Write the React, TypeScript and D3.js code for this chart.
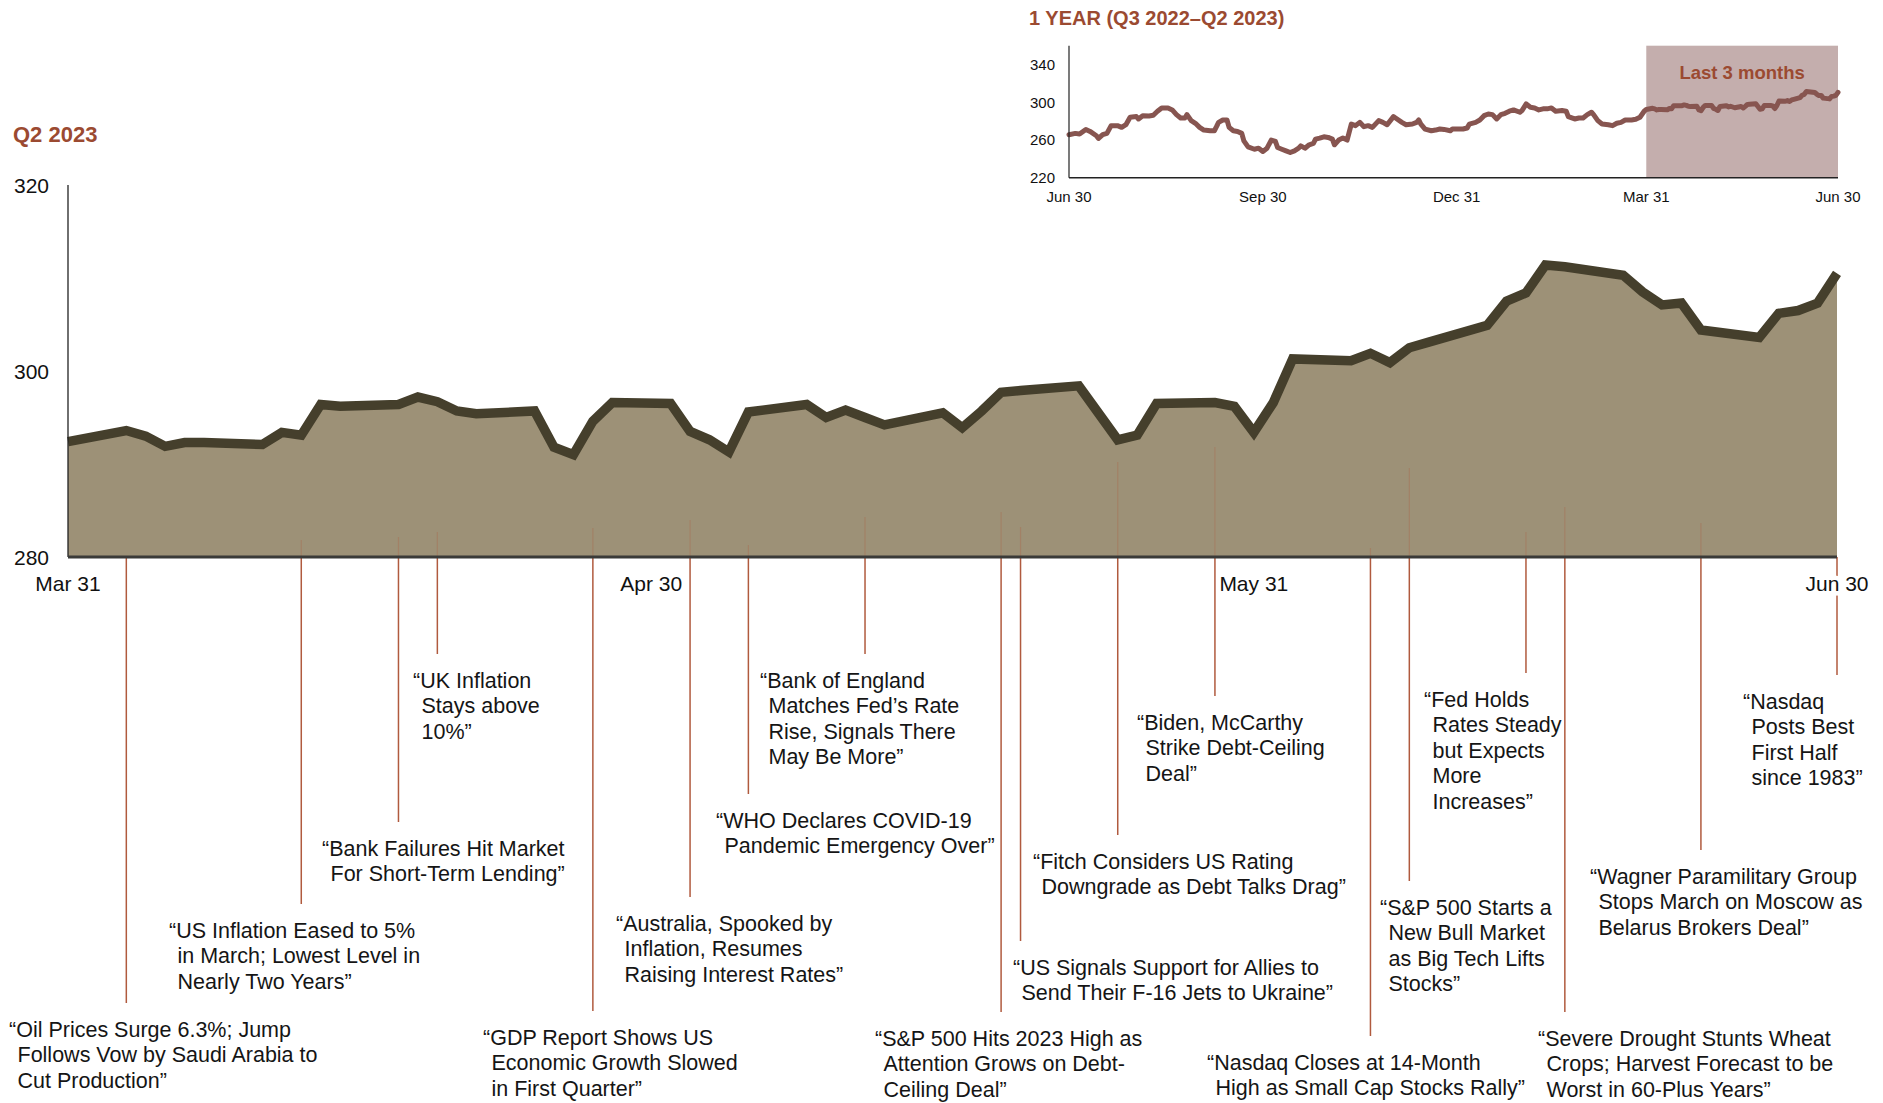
import React from "react";
import * as d3 from "d3";

// Q2 2023 closes (main chart)
const q2Dates = [
  "2023-03-31",
  "2023-04-03", "2023-04-04", "2023-04-05", "2023-04-06", "2023-04-07",
  "2023-04-10", "2023-04-11", "2023-04-12", "2023-04-13", "2023-04-14",
  "2023-04-17", "2023-04-18", "2023-04-19", "2023-04-20", "2023-04-21",
  "2023-04-24", "2023-04-25", "2023-04-26", "2023-04-27", "2023-04-28",
  "2023-05-01", "2023-05-02", "2023-05-03", "2023-05-04", "2023-05-05",
  "2023-05-08", "2023-05-09", "2023-05-10", "2023-05-11", "2023-05-12",
  "2023-05-15", "2023-05-16", "2023-05-17", "2023-05-18", "2023-05-19",
  "2023-05-22", "2023-05-23", "2023-05-24", "2023-05-25", "2023-05-26",
  "2023-05-29", "2023-05-30", "2023-05-31", "2023-06-01", "2023-06-02",
  "2023-06-05", "2023-06-06", "2023-06-07", "2023-06-08", "2023-06-09",
  "2023-06-12", "2023-06-13", "2023-06-14", "2023-06-15", "2023-06-16",
  "2023-06-19", "2023-06-20", "2023-06-21", "2023-06-22", "2023-06-23",
  "2023-06-26", "2023-06-27", "2023-06-28", "2023-06-29", "2023-06-30",
];
const q2Values = [
  292.4,
  293.6, 293.0, 291.9, 292.3, 292.3,
  292.1, 293.4, 293.1, 296.4, 296.2,
  296.4, 297.2, 296.7, 295.7, 295.4,
  295.7, 291.8, 291.0, 294.6, 296.6,
  296.5, 293.5, 292.6, 291.3, 295.6,
  296.4, 295.0, 295.8, 295.0, 294.2,
  295.5, 293.9, 295.7, 297.7, 297.9,
  298.4, 295.5, 292.6, 293.1, 296.5,
  296.6, 296.2, 293.4, 296.6, 301.3,
  301.1, 301.9, 300.9, 302.5, 303.1,
  304.9, 307.5, 308.4, 311.4, 311.2,
  310.3, 308.5, 307.1, 307.3, 304.4,
  303.6, 306.2, 306.5, 307.3, 310.5,
];

// Q3 2022 - Q1 2023
const priorDates = [
  "2022-06-30", "2022-07-03", "2022-07-05", "2022-07-08", "2022-07-10", "2022-07-13",
  "2022-07-14", "2022-07-16", "2022-07-18", "2022-07-20", "2022-07-23", "2022-07-25",
  "2022-07-27", "2022-07-29", "2022-08-01", "2022-08-02", "2022-08-04", "2022-08-07",
  "2022-08-09", "2022-08-11", "2022-08-13", "2022-08-16", "2022-08-18", "2022-08-20",
  "2022-08-22", "2022-08-24", "2022-08-25", "2022-08-27", "2022-08-29", "2022-08-31",
  "2022-09-02", "2022-09-05", "2022-09-07", "2022-09-08", "2022-09-09", "2022-09-11",
  "2022-09-13", "2022-09-14", "2022-09-16", "2022-09-18", "2022-09-20", "2022-09-21",
  "2022-09-23", "2022-09-26", "2022-09-28", "2022-09-30", "2022-10-02", "2022-10-04",
  "2022-10-06", "2022-10-07", "2022-10-09", "2022-10-11", "2022-10-13", "2022-10-15",
  "2022-10-17", "2022-10-18", "2022-10-20", "2022-10-22", "2022-10-24", "2022-10-25",
  "2022-10-27", "2022-10-29", "2022-10-31", "2022-11-02", "2022-11-03", "2022-11-05",
  "2022-11-07", "2022-11-09", "2022-11-11", "2022-11-13", "2022-11-15", "2022-11-17",
  "2022-11-19", "2022-11-21", "2022-11-24", "2022-11-26", "2022-11-28", "2022-12-01",
  "2022-12-02", "2022-12-05", "2022-12-07", "2022-12-10", "2022-12-12", "2022-12-13",
  "2022-12-14", "2022-12-16", "2022-12-19", "2022-12-21", "2022-12-23", "2022-12-25",
  "2022-12-28", "2022-12-29", "2023-01-01", "2023-01-03", "2023-01-05", "2023-01-06",
  "2023-01-09", "2023-01-11", "2023-01-13", "2023-01-15", "2023-01-17", "2023-01-19",
  "2023-01-21", "2023-01-23", "2023-01-25", "2023-01-27", "2023-01-30", "2023-01-31",
  "2023-02-02", "2023-02-04", "2023-02-06", "2023-02-08", "2023-02-10", "2023-02-12",
  "2023-02-14", "2023-02-16", "2023-02-19", "2023-02-21", "2023-02-22", "2023-02-25",
  "2023-02-27", "2023-03-01", "2023-03-03", "2023-03-05", "2023-03-06", "2023-03-08",
  "2023-03-10", "2023-03-13", "2023-03-15", "2023-03-17", "2023-03-19", "2023-03-21",
  "2023-03-24", "2023-03-26", "2023-03-28", "2023-03-30",
];
const priorValues = [
  265.6, 267.0, 266.3, 271.2, 269.1, 264.5,
  261.6, 265.6, 267.0, 275.2, 275.2, 273.4,
  276.2, 284.1, 284.8, 282.3, 285.8, 285.5,
  286.2, 290.5, 294.0, 294.0, 291.9, 286.9,
  283.3, 283.3, 286.9, 280.5, 277.7, 273.4,
  270.5, 269.8, 269.8, 274.1, 278.7, 281.2,
  281.2, 273.4, 269.8, 269.1, 267.0, 259.1,
  252.7, 250.2, 251.3, 247.8, 251.3, 259.9,
  258.4, 252.0, 250.2, 248.5, 246.7, 248.5,
  251.3, 253.8, 251.3, 254.9, 256.3, 260.9,
  262.0, 263.4, 262.7, 260.9, 254.9, 259.9,
  262.0, 259.9, 276.9, 275.2, 278.7, 274.1,
  275.2, 273.4, 280.5, 278.7, 276.2, 284.8,
  283.3, 278.7, 276.2, 276.9, 278.7, 281.2,
  276.9, 271.6, 269.8, 270.5, 271.6, 271.2,
  269.8, 271.6, 271.6, 271.6, 272.7, 276.9,
  278.7, 281.2, 285.8, 287.6, 286.9, 282.3,
  286.9, 288.3, 290.5, 291.9, 289.4, 291.2,
  298.3, 294.7, 294.0, 291.9, 293.0, 293.0,
  294.0, 290.5, 291.2, 290.5, 284.8, 282.3,
  283.3, 283.3, 286.9, 289.4, 286.9, 280.5,
  276.9, 276.2, 275.2, 277.7, 278.7, 281.2,
  281.2, 281.9, 284.1, 290.5,
];

const yTicks = [280, 300, 320];
const xTickDates = ["2023-03-31", "2023-04-30", "2023-05-31", "2023-06-30"];
const xTickLabels = ["Mar 31", "Apr 30", "May 31", "Jun 30"];

const insetYTicks = [220, 260, 300, 340];
const insetTickDates = ["2022-06-30", "2022-09-30", "2022-12-31", "2023-03-31", "2023-06-30"];
const insetTickLabels = ["Jun 30", "Sep 30", "Dec 31", "Mar 31", "Jun 30"];

const headlineDates = [
  "2023-04-03", "2023-04-12", "2023-04-17", "2023-04-19", "2023-04-27", "2023-05-02",
  "2023-05-05", "2023-05-11", "2023-05-18", "2023-05-19", "2023-05-24", "2023-05-29",
  "2023-06-06", "2023-06-08", "2023-06-14", "2023-06-16", "2023-06-23", "2023-06-30",
];
const headlines = [
  ["“Oil Prices Surge 6.3%; Jump", "Follows Vow by Saudi Arabia to", "Cut Production”"],
  ["“US Inflation Eased to 5%", "in March; Lowest Level in", "Nearly Two Years”"],
  ["“Bank Failures Hit Market", "For Short-Term Lending”"],
  ["“UK Inflation", "Stays above", "10%”"],
  ["“GDP Report Shows US", "Economic Growth Slowed", "in First Quarter”"],
  ["“Australia, Spooked by", "Inflation, Resumes", "Raising Interest Rates”"],
  ["“WHO Declares COVID-19", "Pandemic Emergency Over”"],
  ["“Bank of England", "Matches Fed’s Rate", "Rise, Signals There", "May Be More”"],
  ["“S&P 500 Hits 2023 High as", "Attention Grows on Debt-", "Ceiling Deal”"],
  ["“US Signals Support for Allies to", "Send Their F-16 Jets to Ukraine”"],
  ["“Fitch Considers US Rating", "Downgrade as Debt Talks Drag”"],
  ["“Biden, McCarthy", "Strike Debt-Ceiling", "Deal”"],
  ["“Nasdaq Closes at 14-Month", "High as Small Cap Stocks Rally”"],
  ["“S&P 500 Starts a", "New Bull Market", "as Big Tech Lifts", "Stocks”"],
  ["“Fed Holds", "Rates Steady", "but Expects", "More", "Increases”"],
  ["“Severe Drought Stunts Wheat", "Crops; Harvest Forecast to be", "Worst in 60-Plus Years”"],
  ["“Wagner Paramilitary Group", "Stops March on Moscow as", "Belarus Brokers Deal”"],
  ["“Nasdaq", "Posts Best", "First Half", "since 1983”"],
];

// page placement of each headline: text left edge, first line centre, top of faint stem inside the area
const headlineLayout = [
  { x: 9, y: 1029, fade: null },
  { x: 169, y: 930, fade: 540 },
  { x: 322, y: 848, fade: 537 },
  { x: 413, y: 680, fade: 532 },
  { x: 483, y: 1037, fade: 528 },
  { x: 616, y: 923, fade: 520 },
  { x: 716, y: 820, fade: 545 },
  { x: 760, y: 680, fade: 517 },
  { x: 875, y: 1038, fade: 512 },
  { x: 1013, y: 967, fade: 527 },
  { x: 1033, y: 861, fade: 462 },
  { x: 1137, y: 722, fade: 447 },
  { x: 1207, y: 1062, fade: 548 },
  { x: 1380, y: 907, fade: 468 },
  { x: 1424, y: 699, fade: 532 },
  { x: 1538, y: 1038, fade: 507 },
  { x: 1590, y: 876, fade: 523 },
  { x: 1743, y: 701, fade: null },
];

const parse = d3.utcParse("%Y-%m-%d");
const FONT = "'Liberation Sans', Arial, Helvetica, sans-serif";
const ACCENT = "#9b4a31";
const STEM = "#b05a3e";

export default function App() {
  const q2 = q2Dates.map((d, i) => ({ date: parse(d) as Date, value: q2Values[i] }));
  const prior = priorDates.map((d, i) => ({ date: parse(d) as Date, value: priorValues[i] }));
  const year = prior.concat(q2);

  // main chart
  const x = d3.scaleUtc().domain([parse("2023-03-31") as Date, parse("2023-06-30") as Date]).range([68, 1837]);
  const y = d3.scaleLinear().domain([280, 320]).range([557, 185]);

  const area = d3.area<{ date: Date; value: number }>()
    .x(d => x(d.date))
    .y0(y(280))
    .y1(d => y(d.value));
  const line = d3.line<{ date: Date; value: number }>()
    .x(d => x(d.date))
    .y(d => y(d.value));

  // inset
  const ix = d3.scaleUtc().domain([parse("2022-06-30") as Date, parse("2023-06-30") as Date]).range([1069, 1838]);
  const iy = d3.scaleLinear().domain([220, 360]).range([177.7, 45.7]);
  const insetLine = d3.line<{ date: Date; value: number }>()
    .x(d => ix(d.date))
    .y(d => iy(d.value));

  const shadeStart = ix(parse("2023-03-31") as Date);
  const shadeEnd = ix(parse("2023-06-30") as Date);

  const lineGap = 25.5;

  return (
    <svg
      width={1883}
      height={1103}
      style={{ position: "absolute", left: 0, top: 0, background: "#fff", fontFamily: FONT }}
    >
      <rect width={1883} height={1103} fill="#fff" />

      {/* ---- inset: one year ---- */}
      <text x={1029} y={18} dy="0.36em" fill={ACCENT} fontSize={20} fontWeight="bold">
        1 YEAR (Q3 2022–Q2 2023)
      </text>
      <rect x={shadeStart} y={iy(360)} width={shadeEnd - shadeStart} height={iy(220) - iy(360)} fill="#c4aead" />
      <text
        x={(shadeStart + shadeEnd) / 2}
        y={72.5}
        dy="0.36em"
        textAnchor="middle"
        fill={ACCENT}
        fontSize={18.5}
        fontWeight="bold"
      >
        Last 3 months
      </text>
      <path
        d={insetLine(year) || ""}
        fill="none"
        stroke="#875550"
        strokeWidth={5}
        strokeLinejoin="round"
        strokeLinecap="round"
      />
      <line x1={1069} x2={1069} y1={iy(360)} y2={iy(220)} stroke="#222" strokeWidth={1.2} />
      <line x1={1069} x2={1838} y1={iy(220)} y2={iy(220)} stroke="#222" strokeWidth={1.6} />
      {insetYTicks.map(t => (
        <text key={t} x={1055} y={iy(t)} dy="0.36em" textAnchor="end" fontSize={15} fill="#111">
          {t}
        </text>
      ))}
      {insetTickDates.map((d, i) => (
        <text key={d} x={ix(parse(d) as Date)} y={197} dy="0.36em" textAnchor="middle" fontSize={15} fill="#111">
          {insetTickLabels[i]}
        </text>
      ))}

      {/* ---- main chart: Q2 2023 ---- */}
      <text x={13} y={134.5} dy="0.36em" fill={ACCENT} fontSize={22} fontWeight="bold">
        Q2 2023
      </text>

      {/* headline stems below the axis */}
      {headlineDates.map((d, i) => {
        const hx = x(parse(d) as Date);
        const lay = headlineLayout[i];
        return (
          <line key={"s" + i} x1={hx} x2={hx} y1={y(280)} y2={lay.y - 26} stroke={STEM} strokeWidth={1.5} />
        );
      })}

      <path d={area(q2) || ""} fill="#9d9177" />

      {/* faint continuation of the stems inside the area */}
      {headlineDates.map((d, i) => {
        const lay = headlineLayout[i];
        if (lay.fade === null) return null;
        const hx = x(parse(d) as Date);
        return (
          <line
            key={"f" + i}
            x1={hx}
            x2={hx}
            y1={lay.fade}
            y2={y(280)}
            stroke={STEM}
            strokeOpacity={0.28}
            strokeWidth={1.2}
          />
        );
      })}

      <path d={line(q2) || ""} fill="none" stroke="#453f2c" strokeWidth={9.5} />

      <line x1={68} x2={68} y1={y(320)} y2={y(280)} stroke="#222" strokeWidth={1.3} />
      <line x1={68} x2={1837} y1={y(280)} y2={y(280)} stroke="#3a3a38" strokeWidth={3} />

      {yTicks.map(t => (
        <text key={t} x={49} y={y(t)} dy="0.36em" textAnchor="end" fontSize={21} fill="#111">
          {t}
        </text>
      ))}
      {xTickDates.map((d, i) => (
        <text
          key={d}
          x={x(parse(d) as Date)}
          y={583}
          dy="0.36em"
          textAnchor="middle"
          fontSize={21}
          fill="#111"
          stroke="#fff"
          strokeWidth={9}
          strokeLinejoin="round"
          style={{ paintOrder: "stroke" }}
        >
          {xTickLabels[i]}
        </text>
      ))}

      {/* headline texts */}
      {headlines.map((lines, i) => {
        const lay = headlineLayout[i];
        return (
          <g key={"h" + i} fontSize={21.5} fill="#151515">
            {lines.map((s, k) => (
              <text key={k} x={k === 0 ? lay.x : lay.x + 8.5} y={lay.y + k * lineGap} dy="0.36em">
                {s}
              </text>
            ))}
          </g>
        );
      })}
    </svg>
  );
}
